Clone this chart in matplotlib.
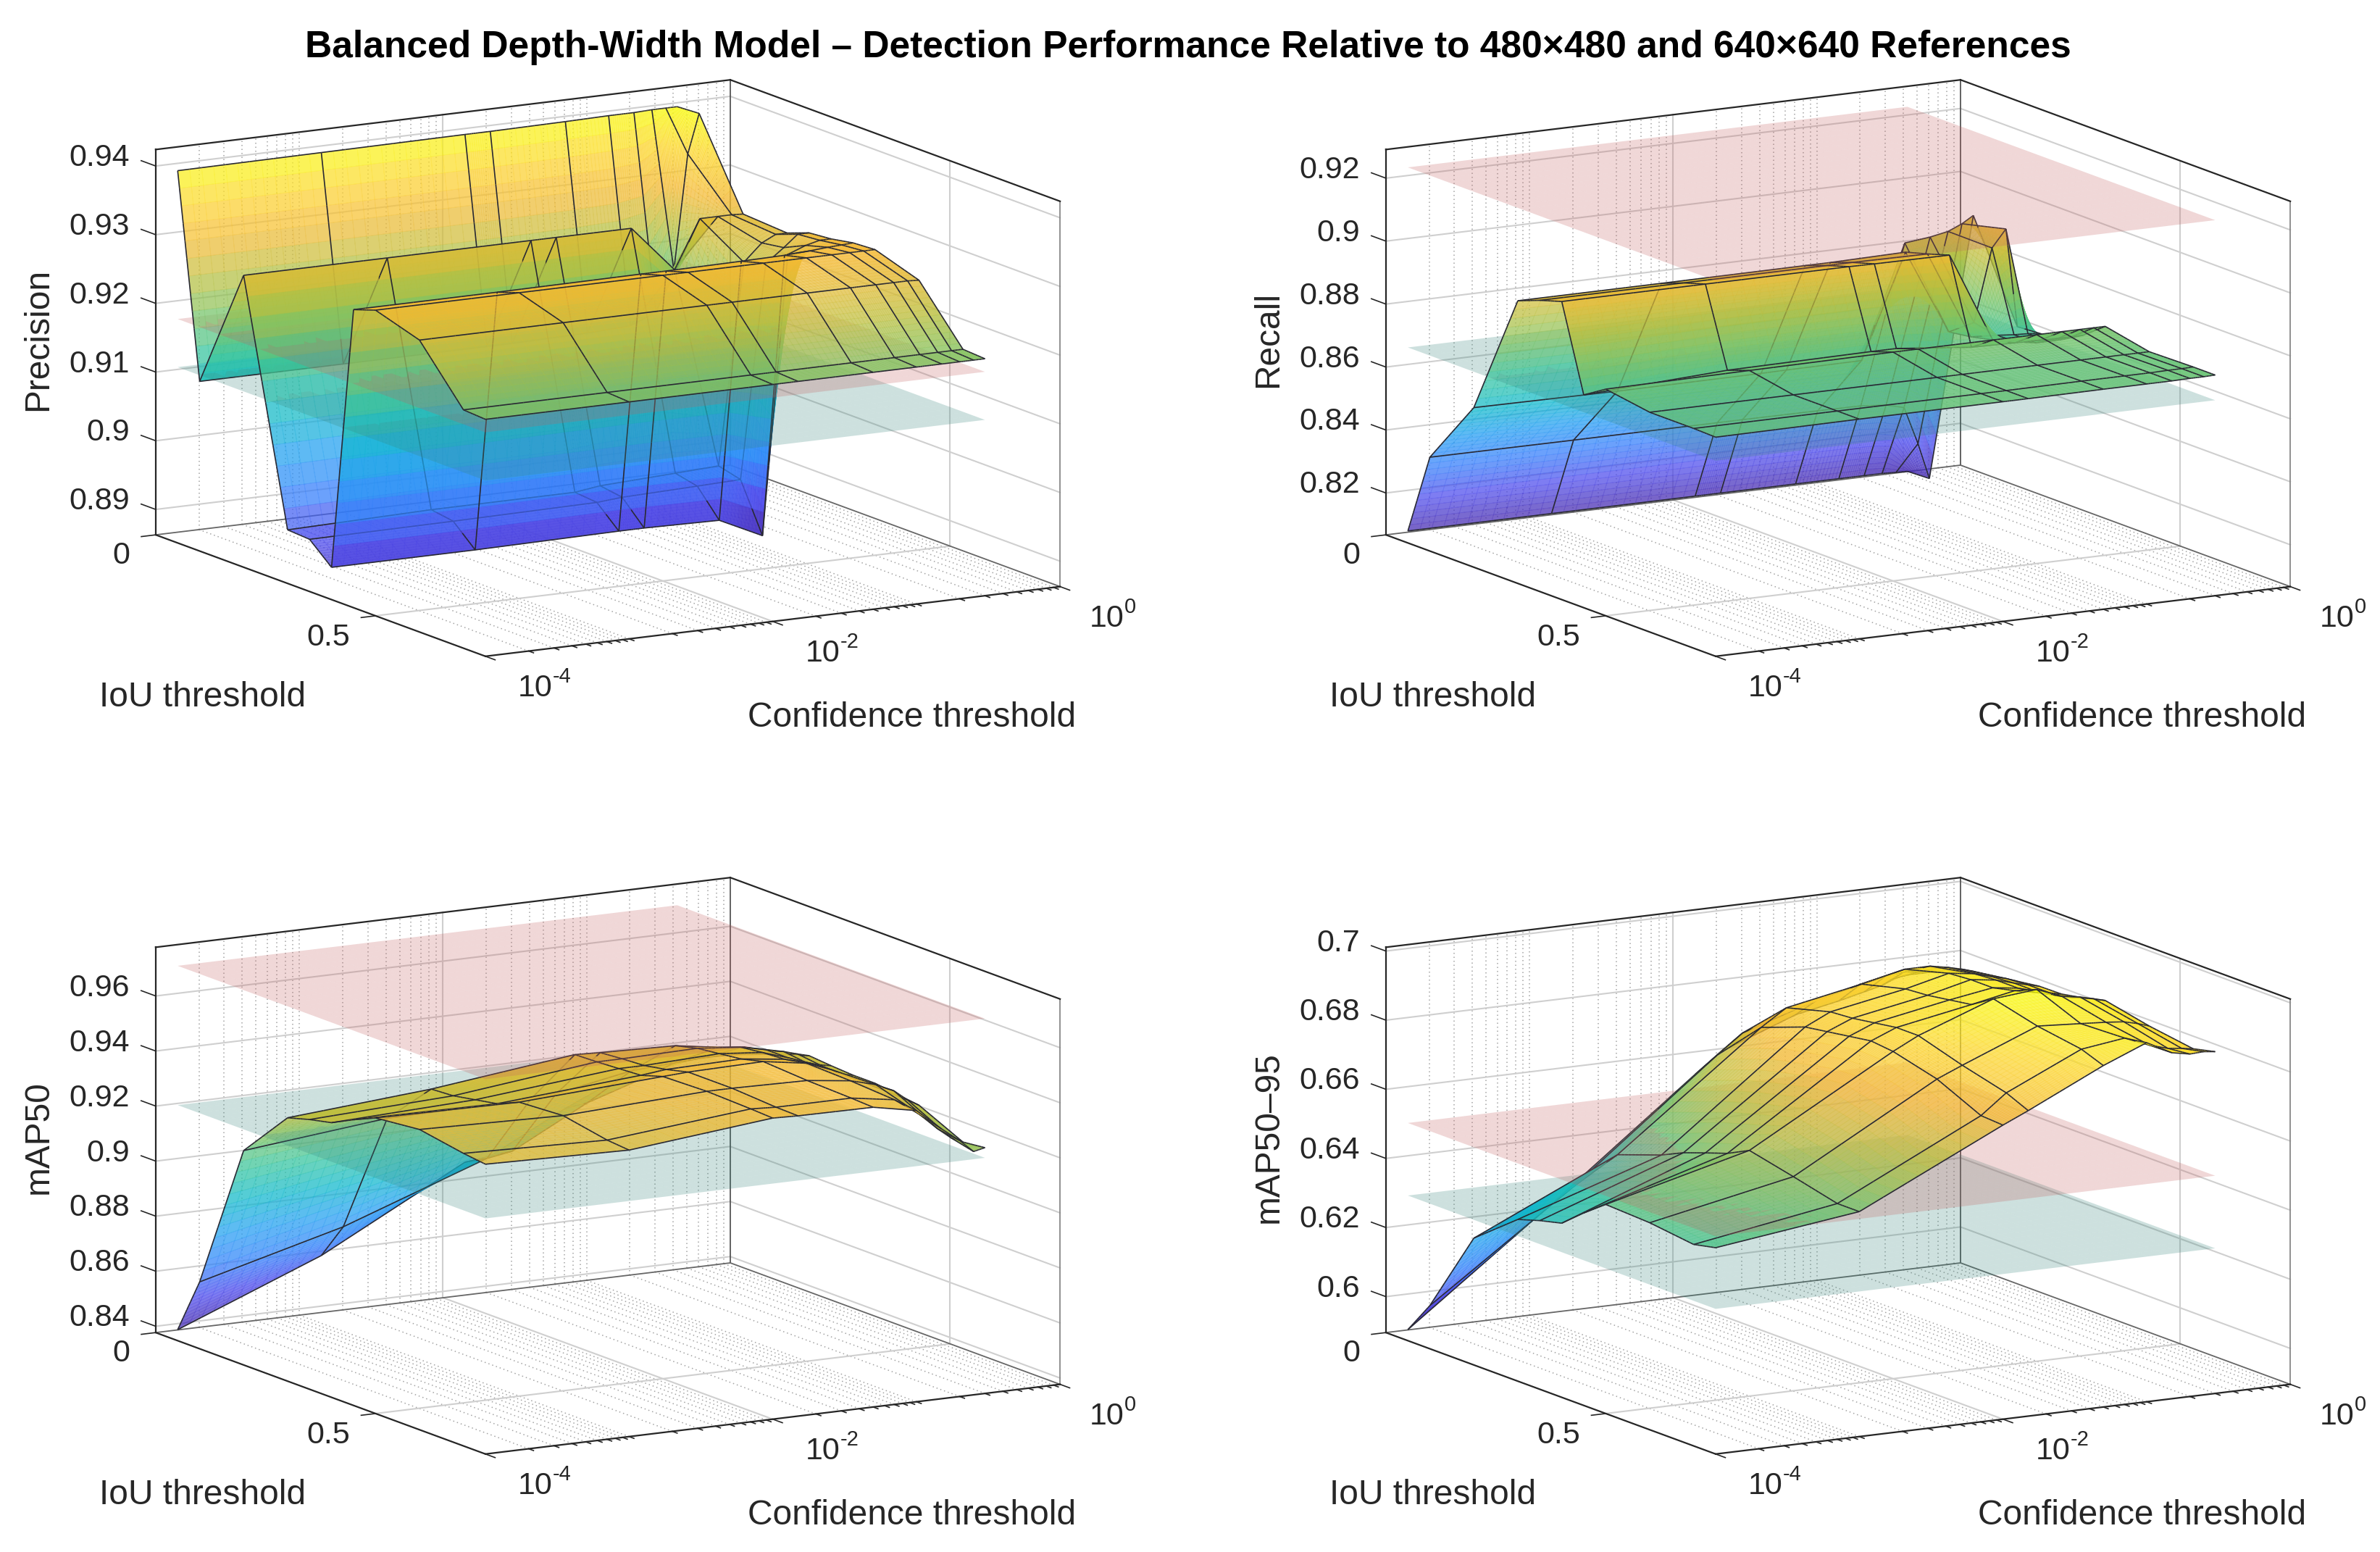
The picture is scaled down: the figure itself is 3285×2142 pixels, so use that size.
import numpy as np
import matplotlib
matplotlib.use('Agg')
import matplotlib.pyplot as plt
from matplotlib.colors import LinearSegmentedColormap
from mpl_toolkits.mplot3d import proj3d
from mpl_toolkits.mplot3d.art3d import Poly3DCollection

plt.rcParams['font.family'] = ['Liberation Sans', 'DejaVu Sans']

# values
conf_values = [1e-4, 1e-3, 1e-2, 0.015, 0.05, 0.1, 0.15, 0.2, 0.25, 0.3]
iou_values = [0.05, 0.1, 0.2, 0.3, 0.35, 0.4, 0.45, 0.5, 0.6, 0.7, 0.75]

precision = [
    [.9405, .9406, .9407, .9407, .9408, .9409, .9409, .9410, .9410, .9410],
    [.9110, .9110, .9110, .9110, .9112, .9115, .9130, .9188, .9355, .9412],
    [.9288, .9288, .9288, .9288, .9288, .9220, .9290, .9290, .9290, .9289],
    [.8941, .8945, .8945, .8950, .8955, .8958, .9250, .9275, .9285, .9285],
    [.8939, .8940, .8942, .8945, .8948, .8950, .9260, .9280, .9297, .9297],
    [.8910, .8910, .8912, .8912, .8910, .8880, .9285, .9295, .9300, .9300],
    [.9297, .9297, .9298, .9298, .9299, .9300, .9302, .9304, .9305, .9306],
    [.9308, .9308, .9308, .9308, .9308, .9308, .9308, .9308, .9308, .9308],
    [.9288, .9288, .9288, .9288, .9288, .9288, .9288, .9288, .9288, .9287],
    [.9210, .9210, .9210, .9210, .9210, .9210, .9210, .9210, .9210, .9210],
    [.9208, .9208, .9208, .9208, .9208, .9208, .9208, .9208, .9208, .9208],
]
recall = [
    [.8105, .8105, .8105, .8105, .8105, .8105, .8105, .8105, .8103, .8102],
    [.8365, .8364, .8364, .8364, .8363, .8362, .8355, .8340, .8220, .8105],
    [.8574, .8571, .8572, .8573, .8574, .8931, .8940, .8951, .8970, .8992],
    [.8965, .8965, .8966, .8966, .8970, .8700, .8720, .8950, .9005, .8690],
    [.8992, .8992, .8992, .8992, .8990, .8710, .8705, .8700, .8698, .8695],
    [.9014, .9014, .9014, .9013, .9012, .8726, .8710, .8700, .8700, .8700],
    [.8743, .8766, .8770, .8770, .8745, .8742, .8741, .8740, .8740, .8740],
    [.8787, .8791, .8794, .8794, .8794, .8794, .8794, .8794, .8794, .8794],
    [.8765, .8765, .8765, .8765, .8765, .8765, .8765, .8765, .8765, .8765],
    [.8765, .8765, .8765, .8765, .8766, .8766, .8766, .8767, .8767, .8768],
    [.8763, .8765, .8765, .8765, .8766, .8766, .8766, .8767, .8767, .8768],
]
map50 = [
    [.8417, .8623, .8899, .8910, .9050, .9120, .9170, .9200, .9215, .9215],
    [.8620, .8757, .8942, .8957, .9100, .9150, .9200, .9230, .9245, .9245],
    [.9156, .9210, .9217, .9225, .9275, .9285, .9290, .9290, .9289, .9288],
    [.9334, .9375, .9437, .9433, .9425, .9400, .9390, .9370, .9350, .9342],
    [.9357, .9380, .9440, .9440, .9445, .9430, .9410, .9395, .9380, .9369],
    [.9375, .9395, .9445, .9445, .9455, .9440, .9410, .9385, .9370, .9362],
    [.9415, .9410, .9450, .9460, .9465, .9445, .9420, .9390, .9365, .9357],
    [.9451, .9445, .9475, .9480, .9485, .9460, .9425, .9390, .9365, .9357],
    [.9468, .9455, .9480, .9480, .9475, .9455, .9430, .9400, .9360, .9336],
    [.9440, .9425, .9475, .9470, .9470, .9445, .9380, .9320, .9280, .9261],
    [.9430, .9418, .9471, .9468, .9466, .9435, .9357, .9307, .9261, .9270],
]
map50_95 = [
    [.5928, .6241, .6566, .6622, .6703, .6728, .6745, .6758, .6774, .6779],
    [.6021, .6315, .6645, .6700, .6770, .6800, .6815, .6820, .6815, .6810],
    [.6263, .6454, .6772, .6820, .6862, .6890, .6890, .6880, .6870, .6860],
    [.6364, .6500, .6820, .6855, .6895, .6925, .6915, .6900, .6890, .6878],
    [.6384, .6530, .6830, .6860, .6900, .6930, .6920, .6905, .6895, .6887],
    [.6400, .6553, .6840, .6870, .6910, .6930, .6920, .6905, .6895, .6888],
    [.6453, .6575, .6850, .6880, .6920, .6945, .6930, .6915, .6905, .6900],
    [.6501, .6607, .6843, .6880, .6960, .6972, .6943, .6935, .6925, .6916],
    [.6495, .6578, .6810, .6841, .6928, .6920, .6915, .6910, .6900, .6889],
    [.6479, .6547, .6751, .6808, .6908, .6925, .6895, .6880, .6875, .6870],
    [.6493, .6547, .6747, .6780, .6884, .6935, .6897, .6887, .6889, .6885],
]

metric_names = ['Precision', 'Recall', 'mAP50', 'mAP50\u201395']
metric_grids = [precision, recall, map50, map50_95]
ref_480 = [0.9119, 0.8688, 0.9233, 0.6316]
ref_640 = [0.9189, 0.9260, 0.9739, 0.6526]
z_limits = [(0.8863, 0.9424), (0.8067, 0.9291), (0.8377, 0.9777), (0.5896, 0.7011)]
z_ticks = [
    [0.89, 0.90, 0.91, 0.92, 0.93, 0.94],
    [0.82, 0.84, 0.86, 0.88, 0.90, 0.92],
    [0.84, 0.86, 0.88, 0.90, 0.92, 0.94, 0.96],
    [0.60, 0.62, 0.64, 0.66, 0.68, 0.70],
]
centers = [(839, 508), (2537, 508), (839, 1609), (2537, 1609)]

W, H = 3285, 2142
AX_SIDE = 1362
YLIM = (0.75, 0.0)
XLIM = (-4.0, 0.0)

parula = LinearSegmentedColormap.from_list('parula', [
    (0.260, 0.150, 0.680), (0.300, 0.290, 0.930), (0.190, 0.500, 0.985),
    (0.130, 0.620, 0.950), (0.050, 0.720, 0.800), (0.200, 0.770, 0.620),
    (0.470, 0.770, 0.400), (0.740, 0.750, 0.240), (0.960, 0.730, 0.200),
    (0.990, 0.840, 0.180), (0.976, 0.984, 0.055)])


def split_quads(xg, yg, zg, n):
    # split each mesh cell only so that the colour can run smoothly over it
    xg, yg, zg = np.asarray(xg), np.asarray(yg), np.asarray(zg)
    si = np.linspace(0, len(yg) - 1, (len(yg) - 1) * n + 1)
    sj = np.linspace(0, len(xg) - 1, (len(xg) - 1) * n + 1)
    xs = np.interp(sj, np.arange(len(xg)), xg)
    ys = np.interp(si, np.arange(len(yg)), yg)
    zs = np.array([np.interp(sj, np.arange(len(xg)), row) for row in zg])
    zs = np.array([np.interp(si, np.arange(len(yg)), col) for col in zs.T]).T
    X, Y = np.meshgrid(xs, ys)
    P = np.dstack([X, Y, zs])
    quads = np.stack([P[:-1, :-1], P[:-1, 1:], P[1:, 1:], P[1:, :-1]], axis=2)
    return quads.reshape(-1, 4, 3)


def mesh_lines(xg, yg, zg, n):
    # mesh lines as flat quads, so they get depth sorted with the faces
    segs = []
    zg = np.asarray(zg)
    t = np.linspace(0, 1, n + 1)
    for i, y in enumerate(yg):
        for j in range(len(xg) - 1):
            p = np.c_[xg[j] + t * (xg[j + 1] - xg[j]), np.full(n + 1, y),
                      zg[i, j] + t * (zg[i, j + 1] - zg[i, j])]
            segs += [[p[k], p[k + 1], p[k + 1], p[k]] for k in range(n)]
    for j, x in enumerate(xg):
        for i in range(len(yg) - 1):
            p = np.c_[np.full(n + 1, x), yg[i] + t * (yg[i + 1] - yg[i]),
                      zg[i, j] + t * (zg[i + 1, j] - zg[i, j])]
            segs += [[p[k], p[k + 1], p[k + 1], p[k]] for k in range(n)]
    return np.array(segs)


def nudge_to_viewer(quads, M, amount):
    # moves points along the line of sight, the picture position stays the same
    pts = np.c_[quads.reshape(-1, 3), np.ones(quads.size // 3)]
    view = pts @ M.T
    view[:, 2] -= amount * view[:, 3]
    back = view @ np.linalg.inv(M).T
    return (back[:, :3] / back[:, 3:]).reshape(quads.shape)


def seg(ax, a, b, **style):
    ax.plot([a[0], b[0]], [a[1], b[1]], [a[2], b[2]], **style)


def put_text(ax, p, txt, dx, dy, **kw):
    px, py, _ = proj3d.proj_transform(p[0], p[1], p[2], ax.get_proj())
    ax.annotate(txt, (px, py), xytext=(dx, dy), textcoords='offset pixels',
                annotation_clip=False, zorder=6, **kw)


def draw_box(ax, zlo, zhi, zt):
    x0, x1 = XLIM
    y0, y1 = 0.0, YLIM[0]
    major = dict(color='#cfcfcf', lw=1.5, zorder=1)
    minor = dict(color='#a4a4a4', lw=1.1, ls=(0, (1, 2.6)), zorder=1)
    for d in range(-4, 0):
        for m in range(1, 10):
            if m == 1 and d in (-4, -2):
                continue
            x = d + np.log10(m)
            seg(ax, (x, y0, zlo), (x, y0, zhi), **minor)
            seg(ax, (x, y0, zlo), (x, y1, zlo), **minor)
    seg(ax, (-2, y0, zlo), (-2, y0, zhi), **major)
    seg(ax, (-2, y0, zlo), (-2, y1, zlo), **major)
    seg(ax, (x0, 0.5, zlo), (x1, 0.5, zlo), **major)
    seg(ax, (x1, 0.5, zlo), (x1, 0.5, zhi), **major)
    for z in zt:
        seg(ax, (x0, y0, z), (x1, y0, z), **major)
        seg(ax, (x1, y0, z), (x1, y1, z), **major)
    dark = dict(color='#262626', lw=1.6, zorder=5)
    seg(ax, (x0, y0, zhi), (x1, y0, zhi), **dark)
    seg(ax, (x1, y0, zhi), (x1, y1, zhi), **dark)
    seg(ax, (x0, y0, zlo), (x0, y0, zhi), **dark)
    seg(ax, (x0, y0, zlo), (x0, y1, zlo), **dark)
    seg(ax, (x0, y1, zlo), (x1, y1, zlo), **dark)
    seg(ax, (x1, y0, zlo), (x1, y0, zhi), color='#555555', lw=1.3, zorder=1)
    seg(ax, (x0, y0, zlo), (x1, y0, zlo), color='#666666', lw=1.3, zorder=1)
    seg(ax, (x1, y0, zlo), (x1, y1, zlo), color='#666666', lw=1.3, zorder=1)
    seg(ax, (x1, y1, zlo), (x1, y1, zhi), color='#888888', lw=1.3, zorder=1)
    tick = dict(color='#262626', lw=1.2, zorder=5)
    for z in zt:
        seg(ax, (x0, y0, z), (x0, -0.033, z), **tick)
    for y in (0.0, 0.5):
        seg(ax, (x0, y, zlo), (x0 - 0.1, y, zlo), **tick)
    for d in range(-4, 1):
        for m in range(1, 10):
            x = d + np.log10(m)
            if x > 0:
                break
            ln = 0.022 if (m == 1 and d % 2 == 0) else 0.011
            seg(ax, (x, y1, zlo), (x, y1 + ln, zlo), **tick)


fig = plt.figure(figsize=(W / 100, H / 100), dpi=100, facecolor='white')
fig.text(1640 / W, 1 - 65 / H,
         'Balanced Depth-Width Model \u2013 Detection Performance Relative to '
         '480\u00d7480 and 640\u00d7640 References',
         ha='center', va='center', fontsize=37.1, fontweight='bold')

log_conf = np.log10(conf_values)

for k in range(4):
    cx, cy = centers[k]
    zlo, zhi = z_limits[k]
    grid = np.array(metric_grids[k])
    left = (cx - 0.5135 * AX_SIDE) / W
    bottom = (H - cy - 0.5135 * AX_SIDE) / H
    ax = fig.add_axes([left, bottom, AX_SIDE / W, AX_SIDE / H],
                      projection='3d', proj_type='ortho')
    ax.computed_zorder = False
    ax.patch.set_alpha(0)
    ax.view_init(elev=12.2, azim=-119.85)
    ax.set_box_aspect((1, 1, 0.595))
    ax.set_xlim(*XLIM, view_margin=0)
    ax.set_ylim(*YLIM, view_margin=0)
    ax.set_zlim(zlo, zhi, view_margin=0)
    ax.set_axis_off()

    draw_box(ax, zlo, zhi, z_ticks[k])

    # colour range takes in the two reference planes as well
    cmin = min(grid.min(), ref_480[k], ref_640[k])
    cmax = max(grid.max(), ref_480[k], ref_640[k])

    faces = split_quads(log_conf, iou_values, grid, 12)
    face_rgba = parula((faces[:, :, 2].mean(axis=1) - cmin) / (cmax - cmin))
    face_rgba[:, 3] = 0.72
    face_edge = face_rgba.copy()
    face_edge[:, 3] = 0.4  # thin same colour edge hides the seams between the pieces
    all_verts = [faces]
    all_face = [face_rgba]
    all_edge = [face_edge]
    all_lw = [np.full(len(faces), 0.5)]

    # reference planes, same collection so the depth sort mixes them with the surface
    plane_x = [log_conf[0], log_conf[-1]]
    plane_y = [iou_values[0], iou_values[-1]]
    for level, rgba in ((ref_640[k], (0.77, 0.38, 0.38, 0.25)),
                        (ref_480[k], (0.22, 0.53, 0.49, 0.25))):
        pl = split_quads(plane_x, plane_y, np.full((2, 2), level), 30)
        all_verts.append(pl)
        all_face.append(np.tile(rgba, (len(pl), 1)))
        all_edge.append(np.zeros((len(pl), 4)))
        all_lw.append(np.zeros(len(pl)))

    # lines sit just in front of their own faces, so those do not veil them
    lines = nudge_to_viewer(mesh_lines(log_conf, iou_values, grid, 12), ax.get_proj(), 0.006)
    all_verts.append(lines)
    all_face.append(np.zeros((len(lines), 4)))
    all_edge.append(np.tile((0.16, 0.16, 0.2, 1.0), (len(lines), 1)))
    all_lw.append(np.full(len(lines), 1.2))

    verts = np.vstack(all_verts)
    # sort back to front here, so the per face line widths stay with their faces
    _, _, depth = proj3d.proj_transform(verts[:, :, 0].ravel(), verts[:, :, 1].ravel(),
                                        verts[:, :, 2].ravel(), ax.get_proj())
    order = np.argsort(-np.reshape(depth, (-1, 4)).mean(axis=1), kind='stable')
    coll = Poly3DCollection(verts[order], facecolors=np.vstack(all_face)[order],
                            edgecolors=np.vstack(all_edge)[order],
                            linewidths=np.concatenate(all_lw)[order], zorder=3)
    ax.add_collection3d(coll, autolim=False)

    # tick labels and axis titles
    tick_font = dict(fontsize=31, color='#262626')
    label_font = dict(fontsize=34.5, color='#262626')
    for z in z_ticks[k]:
        put_text(ax, (-4, 0, z), f'{z:g}', -36, 11, ha='right', va='center', **tick_font)
    put_text(ax, (-4, 0, zlo), '0', -36, -29, ha='right', va='center', **tick_font)
    put_text(ax, (-4, 0.5, zlo), '0.5', -35, -30, ha='right', va='center', **tick_font)
    for d, txt in ((-4, '-4'), (-2, '-2'), (0, '0')):
        shift = -4 if d == 0 else 0
        put_text(ax, (d, YLIM[0], zlo), '10', 45 + shift, -44, ha='left', va='center', **tick_font)
        put_text(ax, (d, YLIM[0], zlo), txt, 93 + shift, -28, ha='left', va='center',
                 fontsize=21, color='#262626')
    put_text(ax, (-4, 0, zlo), 'IoU threshold', 65, -224, ha='center', va='center', **label_font)
    put_text(ax, (0, YLIM[0], zlo), 'Confidence threshold', -205, -181,
             ha='center', va='center', **label_font)
    put_text(ax, (-4, 0, (zlo + zhi) / 2), metric_names[k], -162, 4, ha='center', va='center',
             rotation=90, **label_font)

fig.savefig('out.png', dpi=100)
